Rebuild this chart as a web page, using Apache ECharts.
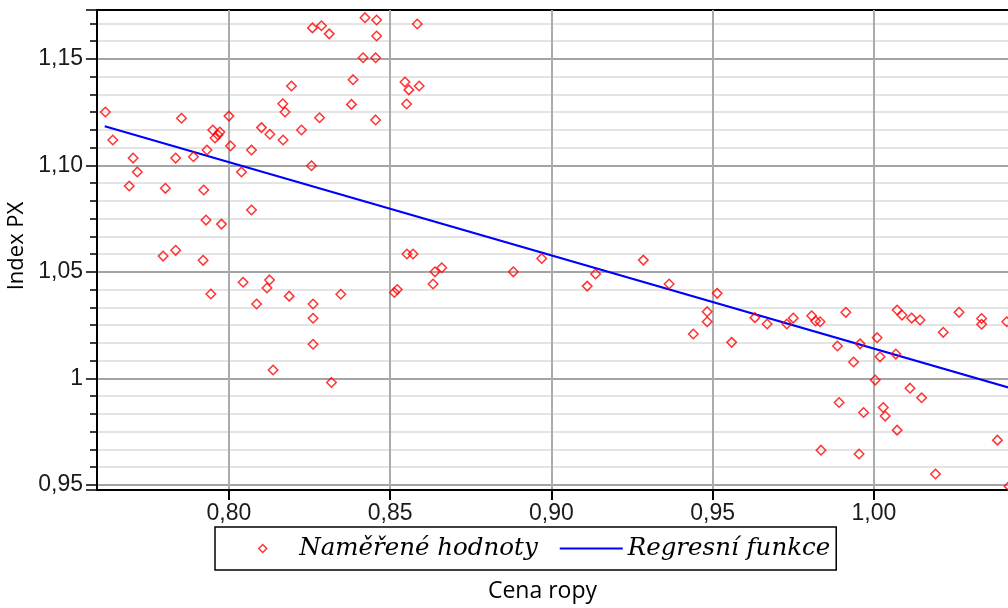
<!DOCTYPE html>
<html>
<head>
<meta charset="utf-8">
<script src="https://cdn.jsdelivr.net/npm/echarts@6/dist/echarts.min.js"></script>
<style>
html,body{margin:0;padding:0;background:#fff;}
#chart{width:1008px;height:608px;}
</style>
</head>
<body>
<div id="chart"></div>
<script>
// Measured values (Cena ropy = oil price, Index PX)
const oilPrice = [0.7617,0.7640,0.7703,0.7716,0.7691,0.7803,0.7835,0.7853,0.7796,0.7835,
  0.7890,0.7922,0.7929,0.7920,0.7944,0.7932,0.7950,0.7972,0.7957,0.7966,
  0.7977,0.8000,0.8005,0.8039,0.8044,0.8070,0.8070,0.8086,0.8101,0.8118,
  0.8126,0.8127,0.8137,0.8168,0.8167,0.8174,0.8187,0.8194,0.8225,0.8256,
  0.8259,0.8261,0.8261,0.8261,0.8281,0.8287,0.8311,0.8318,0.8347,0.8380,
  0.8385,0.8416,0.8422,0.8458,0.8458,0.8455,0.8455,0.8513,0.8522,0.8546,
  0.8558,0.8590,0.8551,0.8584,0.8552,0.8571,0.8633,0.8639,0.8660,0.8882,
  0.8970,0.9111,0.9137,0.9285,0.9365,0.9440,0.9483,0.9483,0.9514,0.9559,
  0.9631,0.9669,0.9730,0.9750,0.9807,0.9819,0.9833,0.9913,0.9887,0.9957,
  0.9937,1.0010,1.0019,1.0068,1.0004,1.0072,1.0087,1.0117,1.0143,1.0215,
  1.0264,1.0334,1.0334,1.0412,1.0112,1.0148,0.9892,0.9968,1.0029,1.0035,
  1.0072,1.0383,0.9836,0.9954,1.0191,1.0419];
const indexPX = [1.1250,1.1119,1.1034,1.0969,1.0903,1.0892,1.1034,1.1221,1.0574,1.0601,
  1.1040,1.0884,1.0743,1.0554,1.0396,1.1072,1.1166,1.1156,1.1128,1.1142,
  1.0724,1.1231,1.1091,1.0969,1.0451,1.1072,1.0790,1.0349,1.1177,1.0424,
  1.0462,1.1146,1.0039,1.1119,1.1289,1.1250,1.0386,1.1372,1.1166,1.0998,
  1.1645,1.0349,1.0282,1.0160,1.1223,1.1655,1.1617,0.9981,1.0395,1.1286,
  1.1402,1.1505,1.1693,1.1682,1.1607,1.1505,1.1213,1.0403,1.0417,1.1391,
  1.1354,1.1372,1.1288,1.1663,1.0584,1.0584,1.0443,1.0500,1.0519,1.0500,
  1.0563,1.0433,1.0490,1.0555,1.0443,1.0208,1.0313,1.0266,1.0399,1.0169,
  1.0285,1.0255,1.0255,1.0283,1.0294,1.0269,1.0266,1.0310,1.0152,1.0162,
  1.0077,1.0191,1.0101,1.0114,0.9992,1.0321,1.0297,1.0283,1.0274,1.0216,
  1.0310,1.0281,1.0254,1.0266,0.9954,0.9909,0.9887,0.9840,0.9863,0.9823,
  0.9757,0.9710,0.9663,0.9645,0.9551,0.9494];
// Regression line end points
const regressionX = [0.7615, 1.0422];
const regressionY = [1.1183, 0.9955];
// Tick labels
const xTickValues = [0.80, 0.85, 0.90, 0.95, 1.00];
const xTickLabels = ['0,80', '0,85', '0,90', '0,95', '1,00'];
const yTickValues = [0.95, 1.00, 1.05, 1.10, 1.15];
const yTickLabels = ['0,95', '1', '1,05', '1,10', '1,15'];
const seriesNames = ['Naměřené hodnoty', 'Regresní funkce'];

function lookup(vals, labels){
  return function(v){
    for (let i = 0; i < vals.length; i++) if (Math.abs(vals[i]-v) < 1e-6) return labels[i];
    return '';
  };
}

const chart = echarts.init(document.getElementById('chart'), null, {renderer:'canvas'});
const tickFont = "'Liberation Sans', Arial, sans-serif";
chart.setOption({
  animation: false,
  backgroundColor: '#fff',
  grid: {left: 97, top: 10, right: -2, bottom: 118, outerBoundsMode: 'none', containLabel: false,
         show: true, borderColor: '#000', borderWidth: 2, backgroundColor: 'transparent'},
  legend: {
    left: 215, top: 527,
    orient: 'horizontal',
    borderColor: '#000', borderWidth: 1.5,
    padding: [9, 6, 9, 43],
    itemGap: 22, itemWidth: 63, itemHeight: 8,
    symbolKeepAspect: true,
    textStyle: {fontFamily: "'DejaVu Serif', serif", fontStyle: 'italic', fontSize: 24.5, color: '#000'},
    data: [
      {name: seriesNames[0], icon: 'path://M5,0L10,5L5,10L0,5Z', itemStyle: {color: '#fff', borderColor: '#ff0000', borderWidth: 1.5}},
      {name: seriesNames[1], icon: 'path://M0,0L63,0L63,2L0,2Z', itemStyle: {color: '#0000ff', borderWidth: 0}}
    ]
  },
  xAxis: {
    type: 'value', min: 0.7591, max: 1.0422, splitNumber: 5,
    name: 'Cena ropy', nameLocation: 'middle', nameGap: 90,
    nameTextStyle: {fontFamily: "'Open Sans', sans-serif", fontSize: 23, color: '#000', padding: [0, 22, 0, 0]},
    axisLine: {show: true, onZero: false, lineStyle: {color: '#000', width: 2}},
    axisTick: {show: true, length: 10, lineStyle: {color: '#000', width: 2}},
    axisLabel: {margin: 12, fontFamily: tickFont, fontSize: 23, color: '#1a1a1a', showMinLabel: false, showMaxLabel: false, formatter: lookup(xTickValues, xTickLabels)},
    splitLine: {show: true, showMinLine: false, showMaxLine: false, lineStyle: {color: '#ababab', width: 2}}
  },
  yAxis: {
    type: 'value', min: 0.9476, max: 1.1729, splitNumber: 5,
    name: 'Index PX', nameLocation: 'middle', nameGap: 47, nameRotate: 90,
    nameTextStyle: {fontFamily: "'Open Sans', sans-serif", fontSize: 22, color: '#000', padding: [0, 0, 0, 8]},
    axisLine: {show: true, onZero: false, lineStyle: {color: '#000', width: 2}},
    axisTick: {show: true, length: 11, lineStyle: {color: '#000', width: 1.5}},
    minorTick: {show: true, splitNumber: 6, length: 7, lineStyle: {color: '#000', width: 1.5}},
    axisLabel: {margin: 14, fontFamily: tickFont, fontSize: 23, color: '#1a1a1a', showMinLabel: false, showMaxLabel: false, formatter: lookup(yTickValues, yTickLabels)},
    splitLine: {show: true, showMinLine: false, showMaxLine: false, lineStyle: {color: '#a4a4a4', width: 2}},
    minorSplitLine: {show: true, lineStyle: {color: '#e4e4e4', width: 2}}
  },
  series: [
    {
      name: seriesNames[0], type: 'scatter', symbol: 'diamond', symbolSize: 9.5, clip: false,
      itemStyle: {color: 'rgba(255,255,255,0)', borderColor: '#ff0000', borderWidth: 1.5},
      data: oilPrice.map((x, i) => [x, indexPX[i]]),
      z: 3
    },
    {
      name: seriesNames[1], type: 'line', symbol: 'none', showSymbol: false, clip: true,
      lineStyle: {color: '#0000ff', width: 2},
      itemStyle: {color: '#0000ff'},
      data: regressionX.map((x, i) => [x, regressionY[i]]),
      z: 2
    }
  ]
});
</script>
</body>
</html>
